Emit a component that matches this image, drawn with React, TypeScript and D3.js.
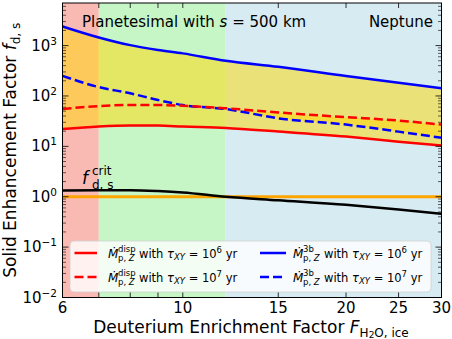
import React from 'react';
import * as d3 from 'd3';

// deuterium enrichment factor F_H2O,ice
const F = [6, 7, 8, 9, 10, 12, 15, 20, 25, 30];
// solid enhancement factor f_d,s
const dispTau6 = [22, 24.7, 25.8, 25.8, 24.7, 23.2, 19.7, 15.6, 12.4, 10.4];
const dispTau7 = [55, 63, 66, 66, 64, 57, 47, 38, 32.5, 27];
const threeBTau6 = [2400, 1450, 1020, 820, 700, 500, 380, 250, 183, 142];
const threeBTau7 = [250, 150, 113, 83, 66, 55, 36, 27, 19.6, 14.8];
const fCrit = [1.33, 1.35, 1.35, 1.3, 1.22, 1.0, 0.85, 0.69, 0.56, 0.46];
const fOne = 1;

// background zones [from, to, colour]
const zones: [number, number, string][] = [
  [6, 7, 'rgb(250,186,180)'],
  [7, 12, 'rgb(198,246,198)'],
  [12, 30, 'rgb(214,235,242)'],
];
const xTicks = [6, 7, 8, 9, 10, 15, 20, 25, 30];
const xLabels = [6, 10, 15, 20, 25, 30];
const yDecades = [-2, -1, 0, 1, 2, 3];

const W = 452, H = 339;
const L = 62.5, R = 441.5, T = 3, B = 297.5;
const font = 'DejaVu Sans';

export default function App() {
  const x = d3.scaleLog().domain([6, 30]).range([L, R]);
  const y = d3.scaleLog().domain([1e-2, 7e3]).range([B, T]);

  const line = (vals: number[]) =>
    d3.line<number>().x((_, i) => x(F[i])).y(d => y(d)).curve(d3.curveMonotoneX)(vals) || '';
  const band = (lo: number[], hi: number[]) =>
    d3.area<number>().x((_, i) => x(F[i])).y0((_, i) => y(lo[i])).y1((_, i) => y(hi[i]))
      .curve(d3.curveMonotoneX)(F) || '';
  const below = d3.area<number>().x((_, i) => x(F[i])).y0(B).y1(d => y(d))
    .curve(d3.curveMonotoneX)(dispTau7) || '';

  const minor: number[] = [];
  for (let e = -2; e <= 3; e++) for (let k = 2; k <= 9; k++) {
    const v = k * Math.pow(10, e);
    if (v < 7e3) minor.push(v);
  }

  const legendItem = (x0: number, yc: number, sup: string, tau: string, color: string, dash?: string, lx0?: number, lx1?: number) => (
    <g>
      <line x1={lx0} x2={lx1} y1={yc} y2={yc} stroke={color} strokeWidth={2.5} strokeDasharray={dash} />
      <text x={x0} y={yc + 4.5} fontSize={12} fontStyle="italic">Ṁ</text>
      <text x={x0 + 10} y={yc - 1.5} fontSize={8.5}>{sup}</text>
      <text x={x0 + 10} y={yc + 7.5} fontSize={8.5}>p, <tspan fontStyle="italic">Z</tspan></text>
      <text x={x0 + 31} y={yc + 4.5} fontSize={11.5}>
        {'with '}<tspan fontStyle="italic">τ</tspan>
        <tspan fontStyle="italic" fontSize={8.5} dy={2.5}>XY</tspan>
        <tspan dy={-2.5}>{' = 10'}</tspan>
        <tspan fontSize={8.5} dy={-5}>{tau}</tspan>
        <tspan dy={5}>{' yr'}</tspan>
      </text>
    </g>
  );

  return (
    <svg width={W} height={H} style={{ position: 'absolute', left: 0, top: 0 }} fontFamily={font}>
      <defs>
        <clipPath id="plot"><rect x={L} y={T} width={R - L} height={B - T} /></clipPath>
        <clipPath id="belowDash"><path d={below} /></clipPath>
      </defs>
      <rect width={W} height={H} fill="#fff" />
      {zones.map(([a, b, c], i) => (
        <rect key={i} x={x(a)} y={T} width={x(b) - x(a)} height={B - T} fill={c} />
      ))}
      <g clipPath="url(#plot)">
        <path d={band(dispTau6, threeBTau6)} fill="rgb(255,215,0)" fillOpacity={0.5} />
        <g clipPath="url(#belowDash)">
          <path d={band(threeBTau7, dispTau7)} fill="rgb(255,215,0)" fillOpacity={0.5} />
        </g>
        <path d={line(threeBTau6)} fill="none" stroke="#0000ff" strokeWidth={2.5} />
        <path d={line(threeBTau7)} fill="none" stroke="#0000ff" strokeWidth={2.5} strokeDasharray="9,4" />
        <path d={line(dispTau7)} fill="none" stroke="#ff0000" strokeWidth={2.5} strokeDasharray="9,4" />
        <path d={line(dispTau6)} fill="none" stroke="#ff0000" strokeWidth={2.5} />
        <line x1={L} x2={R} y1={y(fOne)} y2={y(fOne)} stroke="#ffa500" strokeWidth={3} />
        <path d={line(fCrit)} fill="none" stroke="#000" strokeWidth={2.5} />
      </g>

      <text x={82} y={27} fontSize={15}>
        {'Planetesimal with '}<tspan fontStyle="italic">s</tspan>{' = 500 km'}
      </text>
      <text x={433} y={27} fontSize={15} textAnchor="end">Neptune</text>
      <text x={82} y={184} fontSize={17} fontStyle="italic">f</text>
      <text x={92} y={175} fontSize={12}>crit</text>
      <text x={92} y={189} fontSize={12}>d, s</text>

      {/* legend */}
      <rect x={70} y={241} width={361} height={51} rx={4} fill="#fff" fillOpacity={0.8} stroke="#d0d0d0" strokeWidth={0.8} />
      {legendItem(108, 253, 'disp', '6', '#ff0000', undefined, 74.5, 97)}
      {legendItem(108, 277, 'disp', '7', '#ff0000', '9,4', 74.5, 97)}
      {legendItem(293, 253, '3b', '6', '#0000ff', undefined, 260, 286)}
      {legendItem(293, 277, '3b', '7', '#0000ff', '9,4', 260, 286)}

      {/* frame and ticks */}
      <rect x={L} y={T} width={R - L} height={B - T} fill="none" stroke="#000" strokeWidth={1} />
      {xTicks.map(t => (
        <g key={'x' + t}>
          <line x1={x(t)} x2={x(t)} y1={B} y2={B - 5} stroke="#000" strokeWidth={0.8} />
          <line x1={x(t)} x2={x(t)} y1={T} y2={T + 5} stroke="#000" strokeWidth={0.8} />
        </g>
      ))}
      {xLabels.map(t => (
        <text key={'xl' + t} x={x(t)} y={313} fontSize={15} textAnchor="middle">{t}</text>
      ))}
      {yDecades.map(e => (
        <g key={'y' + e}>
          <line x1={L} x2={L + 6} y1={y(Math.pow(10, e))} y2={y(Math.pow(10, e))} stroke="#000" strokeWidth={0.8} />
          <line x1={R} x2={R - 6} y1={y(Math.pow(10, e))} y2={y(Math.pow(10, e))} stroke="#000" strokeWidth={0.8} />
          <text x={57} y={y(Math.pow(10, e)) + 5} fontSize={15} textAnchor="end">
            10<tspan fontSize={10.5} dy={-6}>{e < 0 ? '−' + -e : e}</tspan>
          </text>
        </g>
      ))}
      {minor.map(v => (
        <g key={'m' + v}>
          <line x1={L} x2={L + 3.5} y1={y(v)} y2={y(v)} stroke="#000" strokeWidth={0.6} />
          <line x1={R} x2={R - 3.5} y1={y(v)} y2={y(v)} stroke="#000" strokeWidth={0.6} />
        </g>
      ))}

      <text x={251} y={333} fontSize={17} textAnchor="middle">
        {'Deuterium Enrichment Factor '}<tspan fontStyle="italic">F</tspan>
        <tspan fontSize={12} dy={3.5}>H</tspan>
        <tspan fontSize={9} dy={1.5}>2</tspan>
        <tspan fontSize={12} dy={-1.5}>O, ice</tspan>
      </text>
      <text transform={`translate(16,${(T + B) / 2}) rotate(-90)`} fontSize={17} textAnchor="middle">
        {'Solid Enhancement Factor '}<tspan fontStyle="italic">f</tspan>
        <tspan fontSize={12} dy={4}>d, s</tspan>
      </text>
    </svg>
  );
}
